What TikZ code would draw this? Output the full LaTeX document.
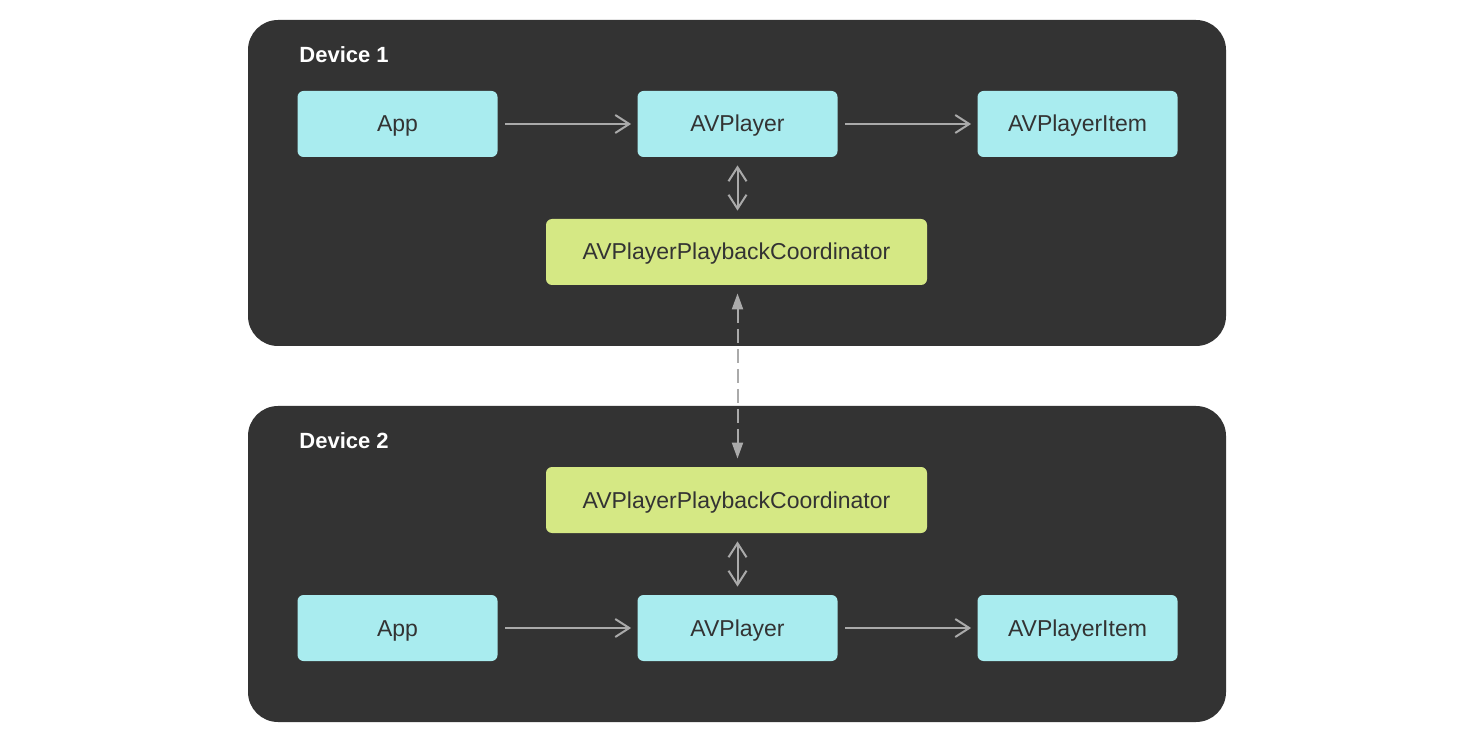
\documentclass[tikz,border=0pt]{standalone}
\usepackage{fontspec}
\setmainfont{Liberation Sans}
\usetikzlibrary{arrows.meta}
\definecolor{devbg}{HTML}{333333}
\definecolor{cyanbox}{HTML}{A9ECEF}
\definecolor{greenbox}{HTML}{D5E884}
\definecolor{txt}{HTML}{333333}
\definecolor{arrowgray}{HTML}{AAAAAA}
\tikzset{
  devbox/.style={fill=devbg, draw=none, rounded corners=15pt, minimum width=489pt, inner sep=0pt},
  devlabel/.style={text=white, font=\fontsize{11}{13}\selectfont\bfseries, anchor=west, inner sep=0pt},
  boxtext/.style={text=txt, font=\fontsize{11.5}{13}\selectfont, text height=8pt, text depth=0pt, inner sep=0pt},
  cbox/.style={boxtext, fill=cyanbox, rounded corners=3pt, minimum width=100pt, minimum height=33pt},
  gbox/.style={boxtext, fill=greenbox, rounded corners=3pt, minimum width=190.5pt, minimum height=33pt},
  arr/.style={draw=arrowgray, line width=1pt, -{Straight Barb[length=7pt,width=9pt,line width=1pt]}},
  darr/.style={draw=arrowgray, line width=1pt, {Straight Barb[length=7pt,width=9pt,line width=1pt]}-{Straight Barb[length=7pt,width=9pt,line width=1pt]}},
  dasharr/.style={draw=arrowgray, line width=1pt, dash pattern=on 7pt off 3pt, {Triangle[length=8pt,width=5.5pt]}-{Triangle[length=8pt,width=5.5pt]}}
}
\begin{document}
\begin{tikzpicture}[x=0.5pt,y=-0.5pt]
\useasboundingbox (0,0) rectangle (1470,742);
\node[devbox, minimum height=163pt] (dev1) at (737,183) {};
\node[devbox, minimum height=158pt] (dev2) at (737,564) {};
\node[devlabel] (lab1) at (299,55) {Device 1};
\node[devlabel] (lab2) at (299,441) {Device 2};
% device 1
\node[cbox] (app1) at (397.5,124) {App};
\node[cbox] (avp1) at (737.5,124) {AVPlayer};
\node[cbox] (item1) at (1077.5,124) {AVPlayerItem};
\node[gbox] (coord1) at (736.5,252) {AVPlayerPlaybackCoordinator};
% device 2
\node[gbox] (coord2) at (736.5,500) {AVPlayerPlaybackCoordinator};
\node[cbox] (app2) at (397.5,628) {App};
\node[cbox] (avp2) at (737.5,628) {AVPlayer};
\node[cbox] (item2) at (1077.5,628) {AVPlayerItem};
% connectors
\draw[arr, shorten <=3.75pt, shorten >=3pt] (app1) -- (avp1);
\draw[arr, shorten <=3.75pt, shorten >=3pt] (avp1) -- (item1);
\draw[arr, shorten <=3.75pt, shorten >=3pt] (app2) -- (avp2);
\draw[arr, shorten <=3.75pt, shorten >=3pt] (avp2) -- (item2);
\draw[darr, shorten <=4pt, shorten >=4pt] (avp1.south) -- (avp1.south |- coord1.north);
\draw[darr, shorten <=4pt, shorten >=4pt] (coord2.south -| avp2.north) -- (avp2.north);
\draw[dasharr, shorten <=4pt, shorten >=4pt] (coord1.south -| avp1.south) -- (coord2.north -| avp1.south);
\end{tikzpicture}
\end{document}
